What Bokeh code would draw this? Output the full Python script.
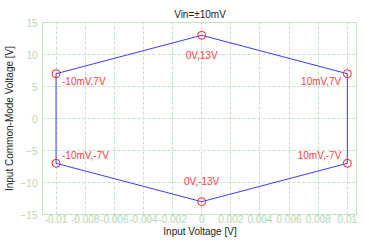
from bokeh.plotting import figure
from bokeh.models import Range1d, FixedTicker, CustomJSTickFormatter, ColumnDataSource, LabelSet
from bokeh.core.properties import value
from bokeh.embed import file_html
from bokeh.resources import INLINE

# data
vin = [-0.01, 0.0, 0.01, 0.01, 0.0, -0.01, -0.01]
vcm = [7, 13, 7, -7, -13, -7, 7]
pt_x = [-0.01, 0.0, 0.01, 0.01, 0.0, -0.01]
pt_y = [7, 13, 7, -7, -13, -7]
pt_labels = ["-10mV,7V", "0V,13V", "10mV,7V", "10mV,-7V", "0V,-13V", "-10mV,-7V"]
lbl_align = ["left", "center", "right", "right", "center", "left"]
lbl_dx = [6, 0, -6, -6, 0, 6]
lbl_dy = [-8, -20, -8, 8, 20, 8]
x_ticks = [-0.01, -0.008, -0.006, -0.004, -0.002, 0.0, 0.002, 0.004, 0.006, 0.008, 0.01]
y_ticks = [-15, -10, -5, 0, 5, 10, 15]

FONT = "Liberation Sans"
GREEN = "#c4e2c4"
TICKC = "#b2d8b2"

p = figure(width=357, height=239, output_backend="svg", toolbar_location=None,
           x_range=Range1d(-0.01093, 0.0107), y_range=Range1d(-15, 15),
           min_border_left=42, min_border_right=0, min_border_top=22, min_border_bottom=24,
           title="Vin=±10mV")

p.title.align = "center"
p.title.text_font = FONT
p.title.text_font_size = "10px"
p.title.text_font_style = "normal"
p.title.text_color = "#222222"
p.title.standoff = 5

p.outline_line_color = GREEN
p.outline_line_alpha = 1

for ax in (p.xaxis[0], p.yaxis[0]):
    ax.axis_line_color = None
    ax.major_tick_line_color = None
    ax.minor_tick_line_color = None
    ax.major_tick_out = 0
    ax.major_tick_in = 0
    ax.minor_tick_out = 0
    ax.major_label_text_font = FONT
    ax.major_label_text_font_size = "10px"
    ax.major_label_text_color = TICKC
    ax.axis_label_text_font = FONT
    ax.axis_label_text_font_size = "10px"
    ax.axis_label_text_font_style = "normal"
    ax.axis_label_text_color = "#222222"

p.xaxis.ticker = FixedTicker(ticks=x_ticks)
p.yaxis.ticker = FixedTicker(ticks=y_ticks)
p.xaxis.formatter = CustomJSTickFormatter(code="return String(+tick.toFixed(4));")
p.xaxis.axis_label = "Input Voltage [V]"
p.yaxis.axis_label = "Input Common-Mode Voltage [V]"
p.xaxis.major_label_standoff = 0
p.xaxis.axis_label_standoff = 0
p.yaxis.major_label_standoff = 5
p.yaxis.axis_label_standoff = 3

p.grid.grid_line_color = GREEN
p.grid.grid_line_dash = "3 2"
p.grid.grid_line_width = 1

p.line(vin, vcm, line_color="#3a3aff", line_width=1)
p.scatter(pt_x, pt_y, size=8, marker="circle", fill_color=None, line_color="#ff2020", line_width=1)

src = ColumnDataSource(dict(x=pt_x, y=pt_y, t=pt_labels, a=lbl_align, dx=lbl_dx, dy=lbl_dy))
labels = LabelSet(x="x", y="y", text="t", source=src, x_offset="dx", y_offset="dy",
                  text_align="a", text_baseline="middle", text_color="#ff3b3b",
                  text_font=value(FONT), text_font_size=value("10px"))
p.add_layout(labels)

open("out.html", "w").write(file_html(p, INLINE))
